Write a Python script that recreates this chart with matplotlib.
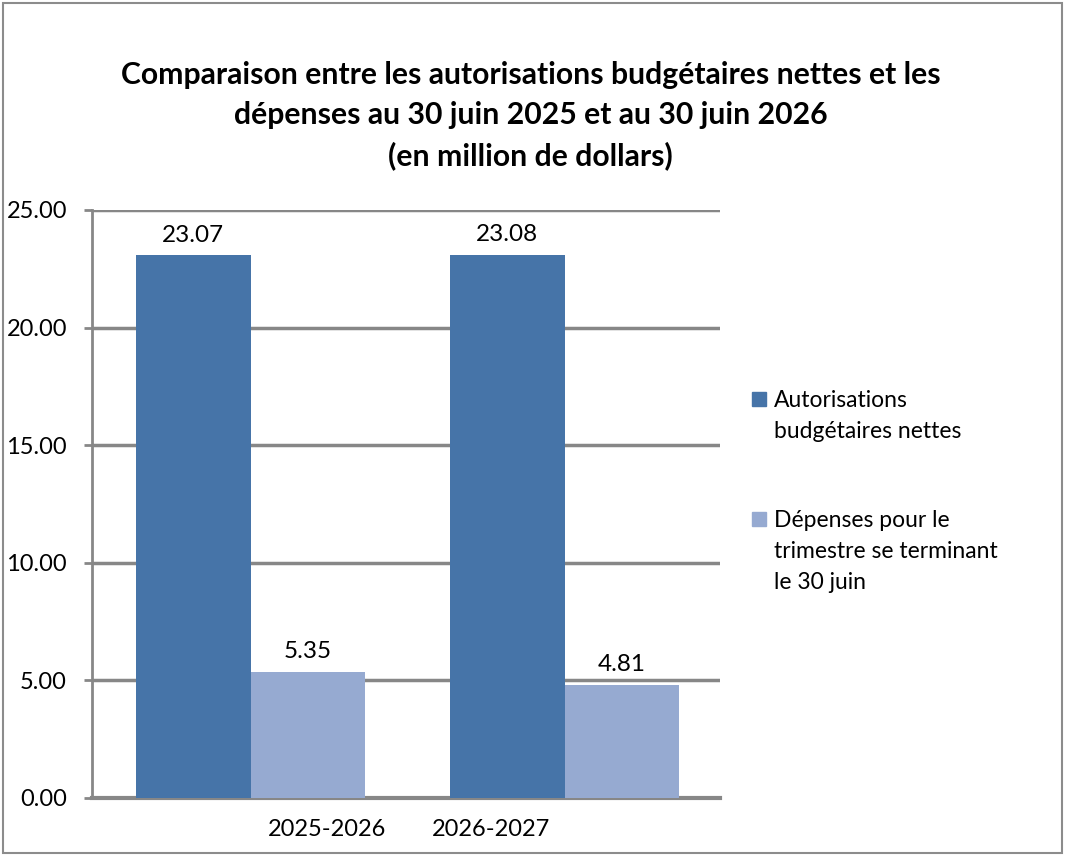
import matplotlib.pyplot as plt
from matplotlib.patches import Rectangle
from matplotlib.ticker import FormatStrFormatter
import numpy as np

plt.rcParams['font.family'] = ['Lato', 'DejaVu Sans']

categories = ["2025-2026", "2026-2027"]
autorisations = [23.07, 23.08]
depenses = [5.35, 4.81]
series_names = ["Autorisations\nbudgétaires nettes",
                "Dépenses pour le\ntrimestre se terminant\nle 30 juin"]
title = ("Comparaison entre les autorisations budgétaires nettes et les\n"
         "dépenses au 30 juin 2025 et au 30 juin 2026\n"
         "(en million de dollars)")

dark = "#4674A8"
light = "#96AAD1"
grid_c = "#878787"

W, H = 1066, 856
fig = plt.figure(figsize=(W / 100, H / 100), dpi=100)
fig.patches.append(Rectangle((0.003, 0.004), 0.993, 0.992, transform=fig.transFigure,
                             fill=False, edgecolor="#8c8c8c", lw=1.5))

ax = fig.add_axes([0.0863, 0.0678, 0.5891, 0.6869])
x = np.arange(len(categories))
w = 0.366
b1 = ax.bar(x - w / 2 + 0.005, autorisations, w, color=dark, zorder=3)
b2 = ax.bar(x + w / 2 + 0.005, depenses, w, color=light, zorder=3)
for bars in (b1, b2):
    ax.bar_label(bars, fmt="%.2f", padding=7, fontsize=17.5)

ax.set_xlim(-0.5, 1.5)
ax.set_ylim(0, 25)
ax.set_yticks(np.arange(0, 26, 5))
ax.yaxis.set_major_formatter(FormatStrFormatter("%.2f"))
ax.yaxis.grid(True, color=grid_c, lw=2.5, zorder=0)
ax.set_axisbelow(True)
for s in ("top", "right"):
    ax.spines[s].set_visible(False)
ax.spines["left"].set_color(grid_c)
ax.spines["left"].set_linewidth(2)
ax.spines["bottom"].set_color(grid_c)
ax.spines["bottom"].set_linewidth(3)
ax.tick_params(axis="y", length=6, width=2, color=grid_c, labelsize=17, pad=12)
# labels sit off-centre like in the original Excel export
ax.set_xticks([x[0] + 0.25, x[1] - 0.23])
ax.set_xticklabels(categories)
ax.tick_params(axis="x", length=0, labelsize=17, pad=15)

fig.text(0.498, 0.865, title, ha="center", va="center", fontsize=21.7,
         fontweight="bold", linespacing=1.5)

# Excel-style legend: swatch aligned with the first line of each label
legend_rows = [399, 519]  # pixel y of first text line
for name, col, yp in zip(series_names, [dark, light], legend_rows):
    fig.patches.append(Rectangle((752 / W, 1 - (yp + 7) / H), 14 / W, 14 / H,
                                 transform=fig.transFigure, color=col))
    fig.text(774 / W, 1 - (yp - 9) / H, name, ha="left", va="top",
             fontsize=16.5, linespacing=1.6)

fig.savefig("out.png", dpi=100)
